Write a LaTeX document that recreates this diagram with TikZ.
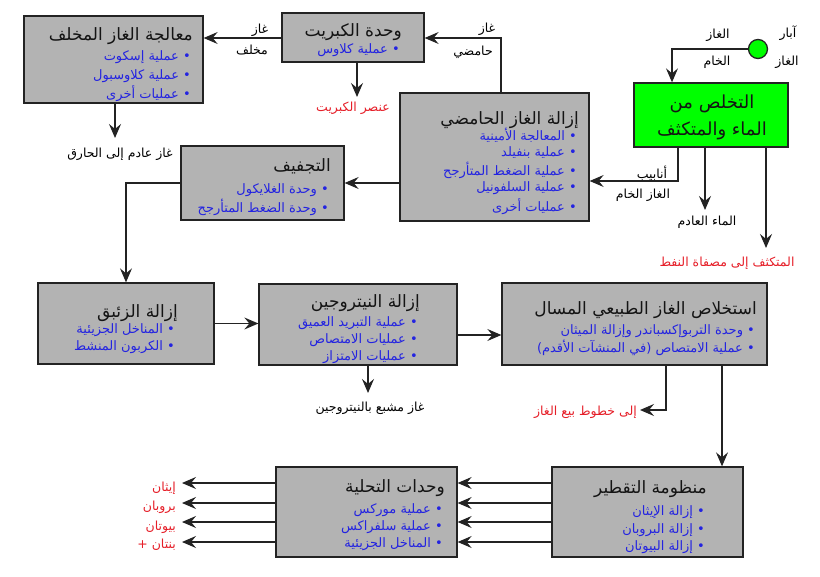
\documentclass[tikz,border=0pt]{standalone}
\usepackage{fontspec}
\usetikzlibrary{arrows.meta}
\newfontfamily\arabicfont[Script=Arabic]{DejaVu Sans}
\TeXXeTstate=1
\newcommand\myR[1]{\beginR#1\endR}
\definecolor{boxgray}{RGB}{179,179,179}
\definecolor{linec}{RGB}{35,35,35}
\definecolor{titlec}{RGB}{20,20,20}
\definecolor{itemblue}{RGB}{35,35,225}
\definecolor{outred}{RGB}{230,30,40}
\definecolor{wellgreen}{RGB}{0,255,0}
\tikzset{
  box/.style={draw=linec, fill=boxgray, line width=1.3pt, inner sep=0pt},
  gbox/.style={draw=linec, fill=wellgreen, line width=1.3pt, inner sep=0pt},
  ttl/.style={font=\arabicfont\fontsize{17}{19}\selectfont, text=titlec, inner sep=0pt, anchor=east},
  gttl/.style={font=\arabicfont\fontsize{18}{20}\selectfont, text=titlec, inner sep=0pt},
  itm/.style={font=\arabicfont\fontsize{13}{15}\selectfont, text=itemblue, inner sep=0pt, anchor=east},
  lbl/.style={font=\arabicfont\fontsize{12.5}{14}\selectfont, text=black, inner sep=0pt},
  rlbl/.style={lbl, text=outred},
  arr/.style={draw=linec, line width=1.3pt, -{Stealth[length=14pt,width=12pt,inset=5pt]}},
  ln/.style={draw=linec, line width=1.3pt}
}
\begin{document}
\begin{tikzpicture}[x=1pt,y=-1pt]
\useasboundingbox[fill=white] (0,0) rectangle (820,577);

% ---- boxes ----
\node[box, minimum width=179pt, minimum height=87pt] (tg) at (113.5,59.5) {};
\node[box, minimum width=142pt, minimum height=49pt] (su) at (353,37.5) {};
\node[box, minimum width=189pt, minimum height=128pt] (ag) at (494.5,157) {};
\node[box, minimum width=163pt, minimum height=74pt] (dh) at (262.5,183) {};
\node[gbox, minimum width=154pt, minimum height=64pt] (gr) at (711,115) {};
\node[gbox, circle, minimum size=19pt] (wells) at (758,49) {};
\node[box, minimum width=176pt, minimum height=81pt] (hg) at (126,323.5) {};
\node[box, minimum width=198pt, minimum height=81pt] (ni) at (358,324.5) {};
\node[box, minimum width=265pt, minimum height=82pt] (ngl) at (634.5,324) {};
\node[box, minimum width=191pt, minimum height=90pt] (fr) at (647.5,512) {};
\node[box, minimum width=181pt, minimum height=90pt] (tr) at (366.5,512) {};

% ---- box texts ----
\node[ttl] (tgT) at (193,36) {\myR{معالجة الغاز المخلف}};
\node[itm] (tgA) at (191,57) {\myR{• عملية إسكوت}};
\node[itm] (tgB) at (191,76) {\myR{• عملية كلاوسبول}};
\node[itm] (tgC) at (191,94) {\myR{• عمليات أخرى}};

\node[ttl] (suT) at (402,32) {\myR{وحدة الكبريت}};
\node[itm] (suA) at (400,50) {\myR{• عملية كلاوس}};

\node[ttl] (agT) at (579,120) {\myR{إزالة الغاز الحامضي}};
\node[itm] (agA) at (577,135) {\myR{• المعالجة الأمينية}};
\node[itm] (agB) at (577,153) {\myR{• عملية بنفيلد}};
\node[itm] (agC) at (577,170) {\myR{• عملية الضغط المتأرجح}};
\node[itm] (agD) at (577,188) {\myR{• عملية السلفونيل}};
\node[itm] (agE) at (577,207) {\myR{• عمليات أخرى}};

\node[ttl] (dhT) at (331,166) {\myR{التجفيف}};
\node[itm] (dhA) at (329,190) {\myR{• وحدة الغلايكول}};
\node[itm] (dhB) at (329,207) {\myR{• وحدة الضغط المتأرجح}};

\node[gttl] (grT1) at (712,104) {\myR{التخلص من}};
\node[gttl] (grT2) at (712,131) {\myR{الماء والمتكثف}};

\node[ttl] (hgT) at (178,313) {\myR{إزالة الزئبق}};
\node[itm] (hgA) at (175,330) {\myR{• المناخل الجزيئية}};
\node[itm] (hgB) at (175,347) {\myR{• الكربون المنشط}};

\node[ttl] (niT) at (420,303) {\myR{إزالة النيتروجين}};
\node[itm] (niA) at (418,323) {\myR{• عملية التبريد العميق}};
\node[itm] (niB) at (418,340) {\myR{• عمليات الامتصاص}};
\node[itm] (niC) at (418,357) {\myR{• عمليات الامتزاز}};

\node[ttl] (nglT) at (757,310) {\myR{استخلاص الغاز الطبيعي المسال}};
\node[itm] (nglA) at (755,331) {\myR{• وحدة التربوإكسباندر وإزالة الميثان}};
\node[itm] (nglB) at (755,348) {\myR{• عملية الامتصاص (في المنشآت الأقدم)}};

\node[ttl] (frT) at (707,489) {\myR{منظومة التقطير}};
\node[itm] (frA) at (705,512) {\myR{• إزالة الإيثان}};
\node[itm] (frB) at (705,530) {\myR{• إزالة البروبان}};
\node[itm] (frC) at (705,547) {\myR{• إزالة البيوتان}};

\node[ttl] (trT) at (445,488) {\myR{وحدات التحلية}};
\node[itm] (trA) at (443,510) {\myR{• عملية موركس}};
\node[itm] (trB) at (443,527) {\myR{• عملية سلفراكس}};
\node[itm] (trC) at (443,544) {\myR{• المناخل الجزيئية}};

% ---- free labels ----
\node[lbl] (l1) at (260,30) {\myR{غاز}};
\node[lbl] (l2) at (252,50) {\myR{مخلف}};
\node[lbl] (l3) at (487,29) {\myR{غاز}};
\node[lbl] (l4) at (473,52) {\myR{حامضي}};
\node[lbl] (l5) at (718,35) {\myR{الغاز}};
\node[lbl] (l6) at (717,62) {\myR{الخام}};
\node[lbl] (l7) at (788,33) {\myR{آبار}};
\node[lbl] (l8) at (787,62) {\myR{الغاز}};
\node[lbl] (l9) at (652,173) {\myR{أنابيب}};
\node[lbl] (l10) at (643,195) {\myR{الغاز الخام}};
\node[lbl] (ww) at (707,222) {\myR{الماء العادم}};
\node[rlbl] (cd) at (727,263) {\myR{المتكثف إلى مصفاة النفط}};
\node[rlbl] (se) at (353,108) {\myR{عنصر الكبريت}};
\node[lbl] (fl) at (120,154) {\myR{غاز عادم إلى الحارق}};
\node[lbl] (ng) at (370,408) {\myR{غاز مشبع بالنيتروجين}};
\node[rlbl, anchor=east] (sl) at (637,412) {\myR{إلى خطوط بيع الغاز}};
\node[rlbl, anchor=east] (o1) at (176,488) {\myR{إيثان}};
\node[rlbl, anchor=east] (o2) at (176,507) {\myR{بروبان}};
\node[rlbl, anchor=east] (o3) at (176,527) {\myR{بيوتان}};
\node[rlbl, anchor=east] (o4) at (176,545) {\myR{بنتان +}};

% ---- free ends ----
\coordinate (wwE) at (705,210);
\coordinate (cdE) at (766,248);
\coordinate (seE) at (357,97);
\coordinate (flE) at (115,138);
\coordinate (ngE) at (368,393);
\coordinate (slE) at (640,410);
\coordinate (e1) at (182,483);
\coordinate (e2) at (182,503);
\coordinate (e3) at (182,522);
\coordinate (e4) at (182,542);

% ---- connectors ----
\draw[arr] (wells.west) -| ([xshift=-39pt]gr.north);
\draw[arr] ([xshift=-33pt]gr.south) |- ([yshift=-24pt]ag.east);
\draw[arr] ([xshift=-6pt]gr.south) -- (wwE);
\draw[arr] ([xshift=55pt]gr.south) -- (cdE);
\draw[arr] ([xshift=6.5pt]ag.north) |- ([yshift=-0.5pt]su.east);
\draw[arr] ([yshift=-0.5pt]su.west) -- ([yshift=-0.5pt]su.west -| tg.east);
\draw[arr] ([xshift=4pt]su.south) -- (seE);
\draw[arr] ([xshift=1.5pt]tg.south) -- (flE);
\draw[arr] (ag.west |- dh.east) -- (dh.east);
\draw[arr] (dh.west) -| (hg.north);
\draw[arr] (hg.east) -- (hg.east -| ni.west);
\draw[arr] ([yshift=-10.5pt]ni.east) -- ([yshift=-10.5pt]ni.east -| ngl.west);
\draw[arr] ([xshift=10pt]ni.south) -- (ngE);
\draw[arr] ([xshift=31.5pt]ngl.south) |- (slE);
\draw[arr] ([xshift=87.5pt]ngl.south) -- ([xshift=74.5pt]fr.north);
\foreach \dy in {29,9,-10,-30}
  \draw[arr] ([yshift=\dy pt]fr.west) -- ([yshift=\dy pt]tr.east);
\draw[arr] ([yshift=29pt]tr.west) -- (e1);
\draw[arr] ([yshift=9pt]tr.west) -- (e2);
\draw[arr] ([yshift=-10pt]tr.west) -- (e3);
\draw[arr] ([yshift=-30pt]tr.west) -- (e4);
\end{tikzpicture}
\end{document}
